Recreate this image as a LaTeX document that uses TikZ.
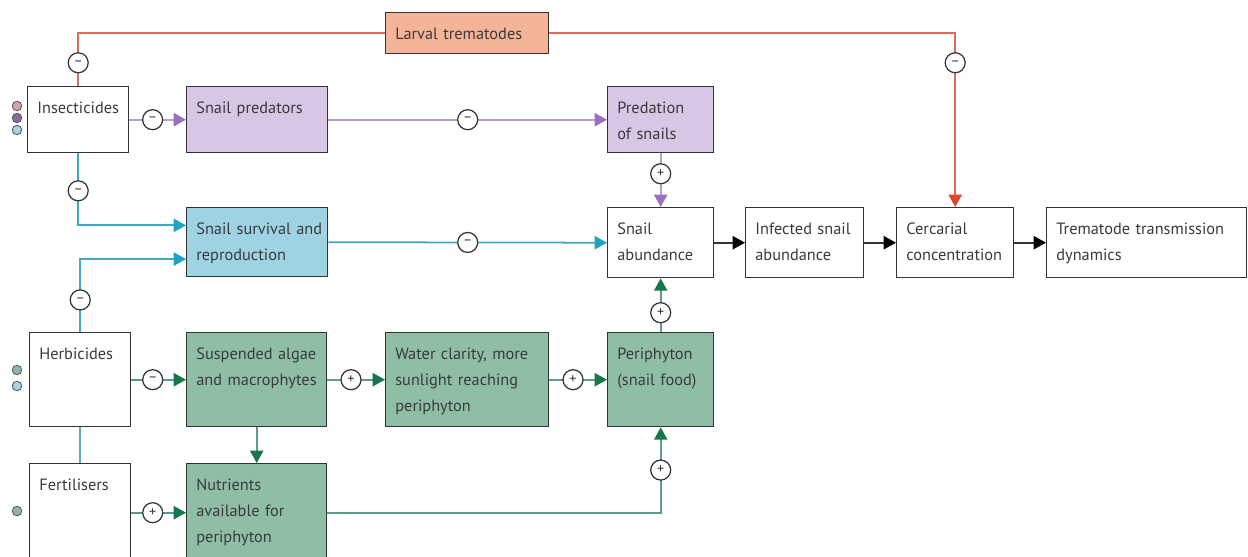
\documentclass[tikz,border=0pt]{standalone}
\usepackage{fontspec}
\setmainfont{PT Sans}
\usepackage{tikz}
\usetikzlibrary{arrows.meta,positioning,calc}

\definecolor{boxline}{HTML}{333333}
\definecolor{txt}{HTML}{3A3A3A}
\definecolor{larvfill}{HTML}{F5B497}
\definecolor{redln}{HTML}{D86F5E}
\definecolor{redtip}{HTML}{E0432E}
\definecolor{purpfill}{HTML}{D7C7E4}
\definecolor{purpln}{HTML}{B7A0CC}
\definecolor{purptip}{HTML}{9A70C2}
\definecolor{cyanfill}{HTML}{9ED3E3}
\definecolor{cyanln}{HTML}{3FA9C2}
\definecolor{cyantip}{HTML}{1FA3C3}
\definecolor{greenfill}{HTML}{8FBEA6}
\definecolor{greenln}{HTML}{5E9C8A}
\definecolor{greentip}{HTML}{17774A}
\definecolor{tealln}{HTML}{5AAFAF}
\definecolor{dotred}{HTML}{D8A4A4}
\definecolor{dotpurp}{HTML}{8A68A8}
\definecolor{dotblue}{HTML}{A8D2E2}
\definecolor{dotgreen}{HTML}{8DB8A2}

\hyphenpenalty=10000
\exhyphenpenalty=10000

\begin{document}
\begin{tikzpicture}[
    x=0.02cm, y=-0.02cm,
    font=\fontsize{9.3}{14.8}\selectfont, text=txt,
    % 方框样式 (宽, 高 以像素计)
    box/.style 2 args={
        draw=boxline,
        line width=0.8pt,
        anchor=north west,
        align=left,
        inner xsep=5.5pt,
        inner ysep=0pt,
        minimum width=#1*0.02cm,
        text width=#1*0.02cm-11pt,
        minimum height=#2*0.02cm,
        text height=15pt,
        text depth=#2*0.02cm-15pt
    },
    % 正负号圆圈
    sign/.style={
        circle,
        draw=boxline,
        fill=white,
        line width=0.7pt,
        minimum size=0.4cm,
        inner sep=0pt,
        text=boxline,
        font=\fontsize{8}{8}\selectfont
    },
    % 左侧小圆点
    dot/.style={
        circle,
        draw=boxline!80,
        line width=0.5pt,
        minimum size=0.19cm,
        inner sep=0pt
    },
    % 连线样式
    redarrow/.style={draw=redln, line width=1pt},
    purparrow/.style={draw=purpln, line width=1pt, -{Triangle[length=7pt,width=7.5pt,color=purptip]}},
    cyanarrow/.style={draw=cyanln, line width=1pt, -{Triangle[length=7pt,width=7.5pt,color=cyantip]}},
    greenarrow/.style={draw=greenln, line width=1pt, -{Triangle[length=7pt,width=7.5pt,color=greentip]}},
    blackarrow/.style={draw=boxline, line width=1pt, -{Triangle[length=7pt,width=7.5pt,color=black]}}
]
\useasboundingbox (0,0) rectangle (1248,557);

% 方框
\node[box={163}{41}, fill=larvfill] (larv) at (385,12) {Larval trematodes};
\node[box={101}{66}, fill=white] (ins) at (27,86) {Insecticides};
\node[box={141}{66}, fill=purpfill] (pred) at (186,86) {Snail predators};
\node[box={106}{66}, fill=purpfill] (predn) at (607,86) {Predation\\of snails};
\node[box={141}{69}, fill=cyanfill] (surv) at (186,207) {\mbox{Snail survival and}\\reproduction};
\node[box={106}{70}, fill=white] (abund) at (607,207) {Snail\\abundance};
\node[box={118}{70}, fill=white] (inf) at (745,207) {\mbox{Infected snail}\\abundance};
\node[box={117}{70}, fill=white] (cerc) at (896,207) {Cercarial\\concentration};
\node[box={200}{70}, fill=white] (trem) at (1046,207) {\mbox{Trematode transmission}\\dynamics};
\node[box={101}{94}, fill=white] (herb) at (29,332) {Herbicides};
\node[box={140}{94}, fill=greenfill] (susp) at (186,332) {\mbox{Suspended algae}\\\mbox{and macrophytes}};
\node[box={163}{94}, fill=greenfill] (water) at (385,332) {\mbox{Water clarity, more}\\\mbox{sunlight reaching}\\periphyton};
\node[box={106}{94}, fill=greenfill] (peri) at (607,332) {Periphyton\\\mbox{(snail food)}};
\node[box={101}{98}, fill=white] (fert) at (29,463) {Fertilisers};
\node[box={140}{98}, fill=greenfill] (nutr) at (186,463) {Nutrients\\\mbox{available for}\\periphyton};

% 小圆点
\node[dot, fill=dotred] (d1) at (17,106) {};
\node[dot, fill=dotpurp] (d2) at (17,118) {};
\node[dot, fill=dotblue] (d3) at (17,130) {};
\node[dot, fill=dotgreen] (d4) at (17,370) {};
\node[dot, fill=dotblue] (d5) at (17,386) {};
\node[dot, fill=dotgreen] (d6) at (17,511) {};

% 红线
\draw[redarrow] (ins.north) |- node[sign, pos=0.22] {--} (larv.west);
\draw[redarrow, -{Triangle[length=7pt,width=7.5pt,color=redtip]}] (larv.east) -| node[sign, pos=0.585] {--} (cerc.north);

% 紫线
\draw[purparrow] (ins.east) -- node[sign, pos=0.41] {--} (pred.west);
\draw[purparrow] (pred.east) -- node[sign, pos=0.5] {--} (predn.west);
\draw[purparrow] (predn.south) -- node[sign, pos=0.38] {+} (abund.north);

% 蓝线
\draw[cyanarrow] (ins.south) |- node[sign, pos=0.26] {--} ([yshift=9.6pt]surv.west);
\draw[cyanarrow] (herb.north) |- node[sign, pos=0.22] {--} ([yshift=-9.6pt]surv.west);
\draw[cyanarrow] (surv.east) -- node[sign, pos=0.5] {--} (abund.west);

% 黑线
\draw[blackarrow] (abund.east) -- (inf.west);
\draw[blackarrow] (inf.east) -- (cerc.west);
\draw[blackarrow] (cerc.east) -- (trem.west);

% 绿线
\draw[greenarrow] (herb.east) -- node[sign, pos=0.39] {--} (susp.west);
\draw[greenarrow] (susp.east) -- node[sign, pos=0.41] {+} (water.west);
\draw[greenarrow] (water.east) -- node[sign, pos=0.41] {+} (peri.west);
\draw[greenarrow] (peri.north) -- node[sign, pos=0.36] {+} (abund.south);
\draw[greenarrow] (susp.south) -- (nutr.north);
\draw[greenarrow] (fert.east) -- node[sign, pos=0.39] {+} (nutr.west);
\draw[greenarrow] (nutr.east) -| node[sign, pos=0.75] {+} (peri.south);
\draw[draw=tealln, line width=1pt] (herb.south) -- (fert.north);

\end{tikzpicture}
\end{document}
